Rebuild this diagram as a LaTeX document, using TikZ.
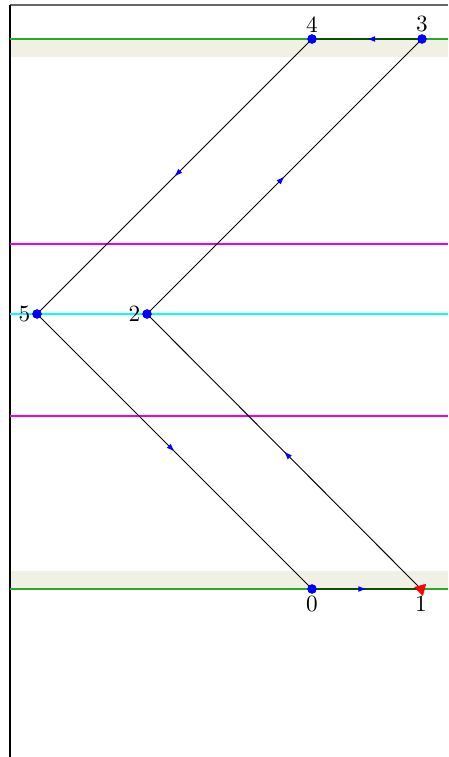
\documentclass[tikz,border=0pt]{standalone}
\usepackage{xcolor}
\usetikzlibrary{decorations.markings,shapes.geometric,arrows.meta}

\definecolor{bandbg}{RGB}{241,240,228}
\definecolor{bandline}{RGB}{40,170,40}
\definecolor{stepline}{RGB}{10,80,10}
\definecolor{levelmag}{RGB}{235,0,235}
\definecolor{levelcyan}{RGB}{0,255,255}

\begin{document}
\begin{tikzpicture}[
    x=0.43pt, y=-0.43pt,
    every node/.style={font=\normalsize},
    every label/.style={inner sep=0.5pt},
    label distance=0pt,
    vertex/.style={circle, fill=blue, minimum size=4pt, inner sep=0pt},
    endvertex/.style={regular polygon, regular polygon sides=3, fill=red, minimum size=6pt, inner sep=0pt, shape border rotate=195},
    midarrow/.style={postaction={decorate}, decoration={markings,
        mark=at position 0.5 with {\arrow[blue, line width=0.4pt]{Latex[length=3.5pt,width=2.5pt]}}}},
    edge/.style={black, thin, midarrow},
    flat/.style={stepline, line width=1pt, midarrow}
  ]
  \useasboundingbox (0,0) rectangle (448,757);

  % shaded bands
  \fill[bandbg] (10,39) rectangle (448,57);
  \fill[bandbg] (10,571) rectangle (448,589);

  % frame
  \draw[gray!80!black, line width=0.8pt] (10,5) -- (448,5);
  \draw[black, line width=0.8pt] (10,5) -- (10,757);

  % levels
  \draw[bandline, line width=0.8pt] (10,39) -- (448,39);
  \draw[bandline, line width=0.8pt] (10,589) -- (448,589);
  \draw[levelmag, line width=0.6pt] (10,244) -- (448,244);
  \draw[levelmag, line width=0.6pt] (10,416) -- (448,416);
  \draw[levelcyan, line width=0.8pt] (10,314) -- (448,314);

  % points
  \node[vertex, label=below:0] (p0) at (312,589) {};
  \node[endvertex, label=below:1] (p1) at (421,589) {};
  \node[vertex, label=left:2] (p2) at (147,314) {};
  \node[vertex, label=above:3] (p3) at (422,39) {};
  \node[vertex, label=above:4] (p4) at (312,39) {};
  \node[vertex, label=left:5] (p5) at (37,314) {};

  % path
  \draw[flat] (p0.center) -- (p1.center);
  \draw[edge] (p1.center) -- (p2.center);
  \draw[edge] (p2.center) -- (p3.center);
  \draw[flat] (p3.center) -- (p4.center);
  \draw[edge] (p4.center) -- (p5.center);
  \draw[edge] (p5.center) -- (p0.center);

  % markers on top
  \node[vertex] at (p0) {};
  \node[endvertex] at (p1) {};
  \node[vertex] at (p2) {};
  \node[vertex] at (p3) {};
  \node[vertex] at (p4) {};
  \node[vertex] at (p5) {};
\end{tikzpicture}
\end{document}
